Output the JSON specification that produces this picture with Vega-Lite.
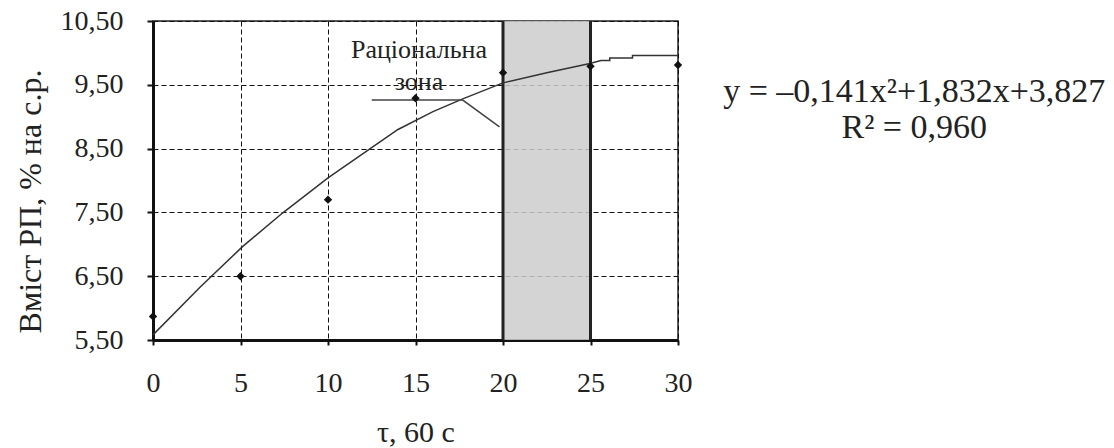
{
  "$schema": "https://vega.github.io/schema/vega-lite/v6.json",
  "width": 525,
  "height": 319,
  "autosize": {"type": "none"},
  "padding": {"left": 153, "top": 21, "right": 436, "bottom": 108},
  "background": "white",
  "config": {
    "font": "Liberation Serif",
    "text": {"font": "Liberation Serif"},
    "axis": {"labelFont": "Liberation Serif", "titleFont": "Liberation Serif"},
    "view": {"stroke": "#222", "strokeWidth": 1.5}
  },
  "datasets": {
    "points": [
      {"t": 0, "v": 5.87}, {"t": 5, "v": 6.5}, {"t": 10, "v": 7.7}, {"t": 15, "v": 9.29},
      {"t": 20, "v": 9.69}, {"t": 25, "v": 9.79}, {"t": 30, "v": 9.81}
    ],
    "trend": [
      {"t": 0, "v": 5.58}, {"t": 2.7, "v": 6.33}, {"t": 5.1, "v": 6.96}, {"t": 7.4, "v": 7.49},
      {"t": 10, "v": 8.04}, {"t": 12, "v": 8.42}, {"t": 14, "v": 8.8}, {"t": 16, "v": 9.08}, {"t": 17.7, "v": 9.28},
      {"t": 20, "v": 9.53}, {"t": 22.5, "v": 9.69}, {"t": 24.9, "v": 9.83}, {"t": 25.6, "v": 9.88},
      {"t": 26.1, "v": 9.88}, {"t": 26.1, "v": 9.92}, {"t": 27.4, "v": 9.92}, {"t": 27.4, "v": 9.96},
      {"t": 30, "v": 9.96}
    ],
    "zone": [{"x0": 20, "x1": 25, "y0": 5.5, "y1": 10.5}],
    "bounds": [{"t": 20}, {"t": 25}],
    "pointer": [
      {"t": 12.5, "v": 9.26, "o": 1}, {"t": 17.7, "v": 9.26, "o": 2}, {"t": 19.8, "v": 8.84, "o": 3}
    ],
    "labels": [
      {"t": 15.2, "v": 9.92, "s": "Раціональна"},
      {"t": 15.2, "v": 9.42, "s": "зона"}
    ],
    "equation": [
      {"t": 43.5, "v": 9.23, "s": "y = –0,141x²+1,832x+3,827"},
      {"t": 43.5, "v": 8.67, "s": "R² = 0,960"}
    ]
  },
  "layer": [
    {
      "data": {"name": "zone"},
      "mark": {"type": "rect", "fill": "#cccccc", "opacity": 0.85},
      "encoding": {
        "x": {"field": "x0", "type": "quantitative", "scale": {"domain": [0, 30], "nice": false, "zero": false},
          "axis": {
            "values": [0, 5, 10, 15, 20, 25, 30],
            "title": "τ, 60 с",
            "grid": true, "gridDash": [5, 3], "gridColor": "#111", "gridWidth": 1,
            "domainColor": "#111", "domainWidth": 3,
            "tickColor": "#111", "tickSize": 5, "tickWidth": 2,
            "labelFont": "Liberation Serif", "titleFont": "Liberation Serif",
            "labelFontSize": 28, "labelPadding": 24, "labelColor": "#222", "labelFlush": false, "labelOverlap": false,
            "titleFontSize": 30, "titleFontWeight": "normal", "titleColor": "#222",
            "titleY": 101, "titleBaseline": "alphabetic"
          }},
        "x2": {"field": "x1"},
        "y": {"field": "y0", "type": "quantitative", "scale": {"domain": [5.5, 10.5], "nice": false, "zero": false},
          "axis": {
            "values": [5.5, 6.5, 7.5, 8.5, 9.5, 10.5],
            "labelExpr": "replace(format(datum.value, '.2f'), '.', ',')",
            "title": "Вміст РП, % на с.р.",
            "grid": true, "gridDash": [5, 3], "gridColor": "#111", "gridWidth": 1,
            "domainColor": "#111", "domainWidth": 3,
            "tickColor": "#111", "tickSize": 6, "tickWidth": 2,
            "labelFont": "Liberation Serif", "titleFont": "Liberation Serif",
            "labelFontSize": 28, "labelPadding": 24, "labelColor": "#222", "labelFlush": false, "labelOverlap": false,
            "titleFontSize": 32, "titleFontWeight": "normal", "titleColor": "#222",
            "titleX": -113, "titleY": 180, "titleAngle": -90, "titleBaseline": "alphabetic", "titleAlign": "center"
          }},
        "y2": {"field": "y1"}
      }
    },
    {
      "data": {"name": "bounds"},
      "mark": {"type": "rule", "color": "#222", "strokeWidth": 3},
      "encoding": {"x": {"field": "t", "type": "quantitative"}}
    },
    {
      "data": {"name": "trend"},
      "mark": {"type": "line", "color": "#333", "strokeWidth": 1.5},
      "encoding": {
        "x": {"field": "t", "type": "quantitative"},
        "y": {"field": "v", "type": "quantitative"},
        "order": {"value": null}
      }
    },
    {
      "data": {"name": "pointer"},
      "mark": {"type": "line", "color": "#444", "strokeWidth": 1.5},
      "encoding": {
        "x": {"field": "t", "type": "quantitative"},
        "y": {"field": "v", "type": "quantitative"},
        "order": {"field": "o"}
      }
    },
    {
      "data": {"name": "points"},
      "mark": {"type": "point", "shape": "diamond", "filled": true, "color": "#111", "size": 70, "opacity": 1},
      "encoding": {
        "x": {"field": "t", "type": "quantitative"},
        "y": {"field": "v", "type": "quantitative"}
      }
    },
    {
      "data": {"name": "labels"},
      "mark": {"type": "text", "font": "Liberation Serif", "fontSize": 26, "color": "#222", "align": "center", "baseline": "alphabetic"},
      "encoding": {
        "x": {"field": "t", "type": "quantitative"},
        "y": {"field": "v", "type": "quantitative"},
        "text": {"field": "s"}
      }
    },
    {
      "data": {"name": "equation"},
      "mark": {"type": "text", "font": "Liberation Serif", "fontSize": 34, "color": "#222", "align": "center", "baseline": "alphabetic"},
      "encoding": {
        "x": {"field": "t", "type": "quantitative"},
        "y": {"field": "v", "type": "quantitative"},
        "text": {"field": "s"}
      }
    }
  ]
}
